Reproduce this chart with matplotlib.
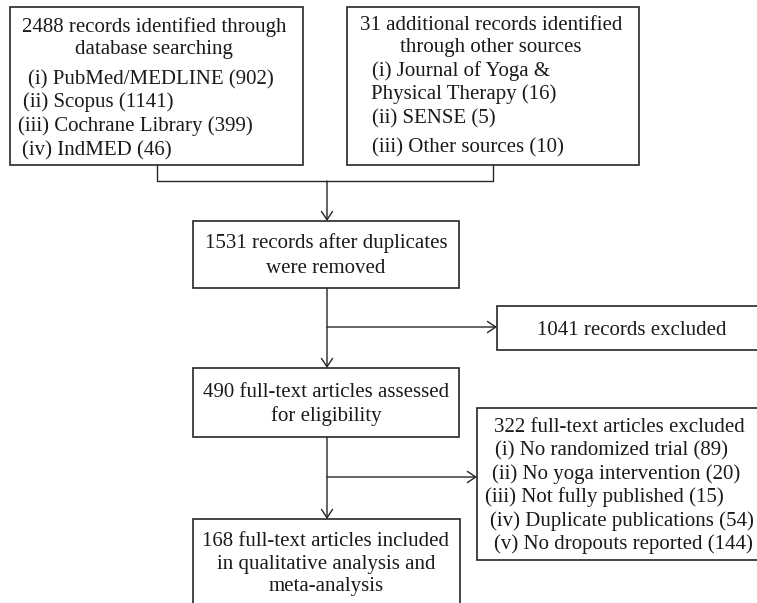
"""
PRISMA flow diagram of the yoga dropout review, redrawn with matplotlib.
Canvas is laid out in pixel units (757 x 603, y grows downwards).
"""
import matplotlib

matplotlib.use("Agg")
import matplotlib.pyplot as plt
from matplotlib import patches

# --- counts ----------------------------------------------------------------
db_total = 2488
db_sources = ["PubMed/MEDLINE", "Scopus", "Cochrane Library", "IndMED"]
db_counts = [902, 1141, 399, 46]
db_numerals = ["(i)", "(ii)", "(iii)", "(iv)"]

other_total = 31
other_counts = [16, 5, 10]  # Journal of Yoga & Physical Therapy, SENSE, other

after_dupes = 1531
screen_excluded = 1041
full_text = 490

ft_excluded = 322
ft_reasons = [
    "No randomized trial",
    "No yoga intervention",
    "Not fully published",
    "Duplicate publications",
    "No dropouts reported",
]
ft_reason_counts = [89, 20, 15, 54, 144]
ft_numerals = ["(i)", "(ii)", "(iii)", "(iv)", "(v)"]

included = 168

W, H = 757, 603
FONT = "Liberation Serif"
FS = 15
LINE = "#262626"
LW = 1.0
TXT_DY = 2.5  # va="center" sits a touch high for serif glyphs


def _box(ax, x0, y0, x1, y1):
    ax.add_patch(
        patches.Rectangle(
            (x0, y0), x1 - x0, y1 - y0,
            facecolor="white", edgecolor=LINE, linewidth=LW + 0.2,
        )
    )


def _txt(ax, x, y, s, ha="center"):
    ax.text(x, y + TXT_DY, s, ha=ha, va="center", fontsize=FS, family=FONT,
            color="#1a1a1a")


def _line(ax, xs, ys):
    ax.plot(xs, ys, color=LINE, lw=LW, solid_capstyle="butt")


def _arrow(ax, x1, y1, x2, y2):
    ax.annotate(
        "",
        xy=(x2, y2),
        xytext=(x1, y1),
        arrowprops=dict(
            arrowstyle="->,head_length=0.6,head_width=0.4",
            color=LINE, lw=LW, shrinkA=0, shrinkB=0,
        ),
    )


def main():
    fig = plt.figure(figsize=(W / 100, H / 100), dpi=100)
    ax = fig.add_axes([0, 0, 1, 1])
    ax.set_xlim(0, W)
    ax.set_ylim(H, 0)
    ax.axis("off")

    # identification boxes
    _box(ax, 10, 7, 303, 165)
    _txt(ax, 154, 25, f"{db_total} records identified through")
    _txt(ax, 154, 47, "database searching")
    db_x = [28, 23, 18, 22]
    db_y = [77, 100, 124, 148]
    for num, src, n, x, y in zip(db_numerals, db_sources, db_counts, db_x, db_y):
        _txt(ax, x, y, f"{num} {src} ({n})", ha="left")

    _box(ax, 347, 7, 639, 165)
    _txt(ax, 491, 23, f"{other_total} additional records identified")
    _txt(ax, 491, 45, "through other sources")
    _txt(ax, 372, 69, "(i) Journal of Yoga &", ha="left")
    _txt(ax, 371, 92, f"Physical Therapy ({other_counts[0]})", ha="left")
    _txt(ax, 372, 116, f"(ii) SENSE ({other_counts[1]})", ha="left")
    _txt(ax, 372, 145, f"(iii) Other sources ({other_counts[2]})", ha="left")

    # join the two sources
    _line(ax, [157, 157, 493, 493], [165, 181, 181, 165])
    _arrow(ax, 327, 181, 327, 221)

    # after duplicates
    _box(ax, 193, 221, 459, 288)
    _txt(ax, 326, 241, f"{after_dupes} records after duplicates")
    _txt(ax, 326, 266, "were removed")

    _arrow(ax, 327, 288, 327, 368)
    _arrow(ax, 327, 327, 497, 327)
    _box(ax, 497, 306, 770, 350)
    _txt(ax, 632, 328, f"{screen_excluded} records excluded")

    # eligibility
    _box(ax, 193, 368, 459, 437)
    _txt(ax, 326, 390, f"{full_text} full-text articles assessed")
    _txt(ax, 326, 414, "for eligibility")

    _arrow(ax, 327, 437, 327, 519)
    _arrow(ax, 327, 477, 477, 477)
    _box(ax, 477, 408, 770, 560)
    _txt(ax, 619, 425, f"{ft_excluded} full-text articles excluded")
    ft_x = [495, 492, 485, 490, 494]
    ft_y = [448, 472, 495, 519, 542]
    for num, r, n, x, y in zip(ft_numerals, ft_reasons, ft_reason_counts, ft_x, ft_y):
        _txt(ax, x, y, f"{num} {r} ({n})", ha="left")

    # included
    _box(ax, 193, 519, 460, 615)
    _txt(ax, 326, 539, f"{included} full-text articles included")
    _txt(ax, 326, 562, "in qualitative analysis and")
    _txt(ax, 326, 584, "meta-analysis")

    fig.savefig("out.png", dpi=100, facecolor="white")
    plt.close(fig)


if __name__ == "__main__":
    main()
